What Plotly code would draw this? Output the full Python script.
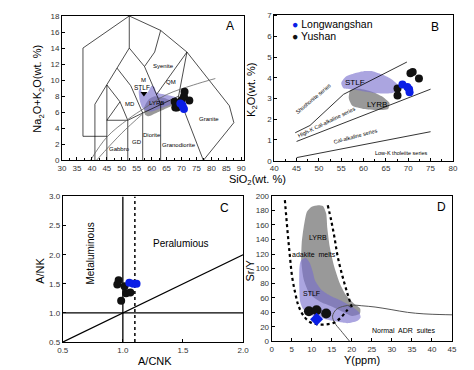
import plotly.graph_objects as go

# ---------------- data ----------------
# Panel A (TAS): SiO2 vs Na2O+K2O
A_long_sio2 = [69.6, 70.4, 70.8, 70.2]
A_long_alk = [7.1, 6.7, 6.4, 6.9]
A_yu_sio2 = [67.7, 67.9, 68.3, 70.0, 70.8, 71.0, 72.6, 68.5]
A_yu_alk = [7.3, 6.6, 7.0, 7.5, 7.95, 8.55, 7.46, 6.6]

# Panel B: SiO2 vs K2O
B_long_sio2 = [68.7, 69.8, 70.2, 70.3]
B_long_k2o = [3.68, 3.56, 3.45, 3.30]
B_yu_sio2 = [67.6, 67.6, 70.5, 71.0, 72.4]
B_yu_k2o = [3.48, 3.14, 4.22, 4.28, 3.97]

# Panel C: A/CNK vs A/NK
C_long_acnk = [1.054, 1.086, 1.114]
C_long_ank = [1.52, 1.50, 1.50]
C_yu_acnk = [0.965, 0.954, 1.014, 1.027, 1.062, 0.986]
C_yu_ank = [1.56, 1.49, 1.46, 1.34, 1.35, 1.21]

# Panel D: Y vs Sr/Y
D_long_y = [11.2]
D_long_sry = [30.4]
D_yu_y = [9.3, 11.2, 13.6]
D_yu_sry = [41.5, 42.9, 38.4]

LEGEND_NAMES = ["Longwangshan", "Yushan"]

# ---------------- reference fields / lines ----------------
TAS_LINES = [
    [(37, 3), (37, 14), (52.5, 18), (63, 16.2), (71.8, 13.5), (86, 6.8), (87.5, 4.7), (77.3, 0)],
    [(37, 3), (45, 3)],
    [(41, 0), (41, 7)],
    [(45, 0), (45, 9.4)],
    [(52, 0), (52, 5)],
    [(57, 0), (57, 5.9)],
    [(63, 0), (63, 7)],
    [(45, 5), (52, 5), (57, 5.9), (63, 7), (69, 8), (77.3, 0)],
    [(41, 7), (45, 9.4), (48.4, 11.5), (52.5, 14), (52.5, 18)],
    [(45, 5), (49.4, 7.3), (45, 9.4)],
    [(49.4, 7.3), (52, 5)],
    [(48.4, 11.5), (53, 9.3), (57, 5.9)],
    [(52.5, 14), (57.6, 11.7), (63, 7)],
    [(57.6, 11.7), (61, 13.5), (63, 16.2)],
    [(69, 8), (71.8, 13.5)],
    [(71.8, 13.5), (61.6, 8.2)],
]
TAS_ALK_LINES = [
    [(39.5, 0), (45, 2.9), (52, 5.1), (58, 6.6), (65, 8.2), (74, 9.4), (81.3, 10.2)],
    [(41.5, 0), (50, 3.4), (57, 5.8)],
]
A_STLF = [(55.7, 8.7), (56.3, 8.9), (57, 8.3), (58.5, 8.4), (60, 9.3), (61, 9.1), (61.5, 8.5),
          (64, 8.25), (67, 8.0), (68.5, 7.8), (68.3, 7.2), (66, 6.9), (63, 6.5), (60, 6.1),
          (58, 6.2), (56.8, 6.6), (56, 7.5)]
A_LYRB = [(57.5, 6.6), (59, 7.6), (61, 8.0), (64, 7.8), (66.5, 7.4), (67, 6.9), (65, 6.5),
          (62, 6.0), (59, 5.5), (57.8, 5.7)]
A_MARK = [(57.4, 8.35)]

B_LINES = [
    [(44.7, 1.35), (48, 1.7), (55.5, 3.2), (69.7, 4.76)],
    [(45, 0.93), (75, 3.45)],
    [(45, 0.15), (75, 1.4)],
]
B_STLF = [(55, 3.75), (56, 4.05), (58, 4.22), (60, 4.32), (62, 4.32), (64, 4.17), (66, 3.97),
          (67.5, 3.7), (67.8, 3.4), (66, 3.25), (63, 3.25), (60, 3.35), (57.5, 3.45), (55.5, 3.5)]
B_LYRB = [(57, 3.4), (59, 3.47), (62, 3.32), (64, 3.12), (65.8, 2.78), (65.5, 2.5), (63, 2.45),
          (60, 2.5), (57.5, 2.65), (56.7, 3.0)]

C_LINES = [
    [(1.0, 0.5), (1.0, 3.0)],
    [(0.5, 1.0), (2.0, 1.0)],
    [(0.5, 0.5), (2.0, 2.0)],
]
C_DOT = [(1.1, 0.5), (1.1, 3.0)]

D_LEFT_DOT = [(3.3, 194), (3.9, 155), (4.5, 120), (5.1, 89), (5.9, 66), (6.7, 49), (8, 35),
              (9.6, 26.5), (11.6, 23.5), (13.6, 23.5), (15.7, 26), (17.3, 33), (18.7, 42), (19.5, 48)]
D_RIGHT_DOT = [(14, 187), (14.9, 165), (15.7, 142), (16.5, 116), (17.7, 89), (18.9, 66),
               (19.7, 52), (20, 47)]
D_ADR = [(19.5, 0), (17.3, 14.7), (15.7, 25.9), (15.2, 34.8), (16.1, 43.8), (17.7, 48),
         (20.1, 50), (22.5, 49), (25.8, 47.3), (29.8, 43.8), (33.9, 40), (38, 37.9), (42, 37), (45, 36.6)]
D_LYRB = [(11.6, 187), (12.8, 186), (13.6, 176), (13.9, 155), (14.5, 130), (15.5, 105), (17, 80),
          (18.5, 64), (20.5, 52), (22.1, 45), (22, 38), (20, 35), (18, 40), (15, 48), (12, 55),
          (9.5, 65), (8, 85), (7.4, 110), (7.5, 135), (8, 157), (8.8, 178), (10, 185)]
D_STLF = [(7.5, 112), (8.5, 115), (9.5, 108), (10.3, 95), (10.8, 84), (12.4, 71), (14.9, 62),
          (17.7, 55), (20, 48), (21.8, 40), (22.2, 33), (21.3, 28), (18.9, 25), (15.7, 28),
          (13.2, 31), (10, 36), (7.8, 45), (7.1, 55), (6.9, 75), (6.9, 98), (7.1, 108)]

BLUE = "#0a1ee6"
BLACK = "#111111"
GRAY_FILL = "rgba(135,135,135,0.85)"
PURPLE_FILL = "rgba(120,110,205,0.62)"
FONT = "Arial, Liberation Sans, sans-serif"

fig = go.Figure()


def poly(pts, ax, fill, close=True):
    xs = [p[0] for p in pts]
    ys = [p[1] for p in pts]
    if close:
        xs = xs + [xs[0]]
        ys = ys + [ys[0]]
    fig.add_trace(go.Scatter(x=xs, y=ys, mode="lines", fill="toself", fillcolor=fill,
                             line=dict(width=0, shape="spline", smoothing=0.6), hoverinfo="skip",
                             showlegend=False, xaxis="x" + ax, yaxis="y" + ax))


def line(pts, ax, color="black", width=0.8, dash="solid", shape="linear"):
    fig.add_trace(go.Scatter(x=[p[0] for p in pts], y=[p[1] for p in pts], mode="lines",
                             line=dict(color=color, width=width, dash=dash, shape=shape),
                             hoverinfo="skip", showlegend=False, xaxis="x" + ax, yaxis="y" + ax))


def pts(x, y, ax, color, name=None, symbol="circle", size=8):
    fig.add_trace(go.Scatter(x=x, y=y, mode="markers", name=name,
                             marker=dict(color=color, size=size, symbol=symbol, line=dict(width=0)),
                             showlegend=False, xaxis="x" + ax, yaxis="y" + ax))


# Panel A
poly(A_LYRB, "", GRAY_FILL)
poly(A_STLF, "", PURPLE_FILL)
for seg in TAS_LINES:
    line(seg, "", width=0.7)
for seg in TAS_ALK_LINES:
    line(seg, "", color="#666666", width=0.8, shape="spline")
fig.add_trace(go.Scatter(x=[p[0] for p in A_MARK], y=[p[1] for p in A_MARK], mode="markers",
                         marker=dict(symbol="triangle-down", size=6, color="black"),
                         showlegend=False, hoverinfo="skip"))
pts(A_yu_sio2, A_yu_alk, "", BLACK)
pts(A_long_sio2, A_long_alk, "", BLUE)

# Panel B
poly(B_LYRB, "2", GRAY_FILL)
poly(B_STLF, "2", PURPLE_FILL)
for seg in B_LINES:
    line(seg, "2", width=0.8)
pts(B_yu_sio2, B_yu_k2o, "2", BLACK, name=LEGEND_NAMES[1])
pts(B_long_sio2, B_long_k2o, "2", BLUE, name=LEGEND_NAMES[0])

# Panel C
for seg in C_LINES:
    line(seg, "3", width=1.3)
line(C_DOT, "3", width=1.5, dash="dot")
pts(C_yu_acnk, C_yu_ank, "3", BLACK)
pts(C_long_acnk, C_long_ank, "3", BLUE)

# Panel D
poly(D_LYRB, "4", GRAY_FILL)
poly(D_STLF, "4", PURPLE_FILL)
line(D_ADR, "4", color="#555555", width=1, shape="spline")
line(D_LEFT_DOT, "4", width=2.2, dash="dot", shape="spline")
line(D_RIGHT_DOT, "4", width=2.2, dash="dot", shape="spline")
pts(D_yu_y, D_yu_sry, "4", BLACK, size=10)
pts(D_long_y, D_long_sry, "4", BLUE, symbol="diamond", size=10)

axis_style = dict(showline=True, linecolor="black", linewidth=1, mirror=True, ticks="inside",
                  ticklen=3, tickwidth=1, tickcolor="black", showgrid=False, zeroline=False,
                  tickfont=dict(size=8, color="#333333", family=FONT))
minor_x = dict(dtick=2.5, ticks="inside", ticklen=2, tickcolor="black")

fig.update_layout(
    width=474, height=370, margin=dict(l=0, r=0, t=0, b=0),
    paper_bgcolor="white", plot_bgcolor="white",
    font=dict(family=FONT, color="black"),
    showlegend=False,
    xaxis=dict(domain=[0.104, 0.4985], range=[30, 91], dtick=5, anchor="y", minor=minor_x, **axis_style),
    yaxis=dict(domain=[0.589, 0.989], range=[0, 18], dtick=2, anchor="x", **axis_style),
    xaxis2=dict(domain=[0.5633, 0.950], range=[40, 80], dtick=5, anchor="y2", minor=minor_x, **axis_style),
    yaxis2=dict(domain=[0.588, 0.993], range=[0, 7.05], dtick=1, anchor="x2", **axis_style),
    xaxis3=dict(domain=[0.1055, 0.4958], range=[0.5, 2.0], dtick=0.5, tickformat=".1f",
                anchor="y3", **axis_style),
    yaxis3=dict(domain=[0.0857, 0.489], range=[0.5, 3.0], dtick=0.5, tickformat=".1f",
                anchor="x3", **axis_style),
    xaxis4=dict(domain=[0.5577, 0.948], range=[0, 45], dtick=5, anchor="y4", **axis_style),
    yaxis4=dict(domain=[0.0873, 0.491], range=[0, 200], dtick=20, anchor="x4", **axis_style),
)

ann = []


def t(x, y, text, ref="", size=6, angle=0, color="black", xanchor="center"):
    ann.append(dict(x=x, y=y, xref="x" + ref, yref="y" + ref, text=text, showarrow=False,
                    xanchor=xanchor, yanchor="middle",
                    textangle=angle, font=dict(size=size, color=color, family=FONT)))


def p(x, y, text, size=11, angle=0, xanchor="center"):
    ann.append(dict(x=x, y=y, xref="paper", yref="paper", text=text, showarrow=False,
                    xanchor=xanchor, yanchor="middle",
                    textangle=angle, font=dict(size=size, color="black", family=FONT)))


# Panel A labels
t(86.2, 16.7, "A", size=12)
t(63.9, 11.8, "Syenite")
t(66.6, 9.8, "QM")
t(57.4, 10.0, "M")
t(56.6, 9.1, "STLF", size=6.5)
t(52.8, 7.0, "MD")
t(61.5, 7.2, "LYRB")
t(79.1, 5.1, "Granite")
t(60.1, 3.2, "Diorite")
t(55.0, 2.35, "GD")
t(49.2, 1.46, "Gabbro")
t(69.1, 1.86, "Granodiorite")

# Panel B labels + legend key
t(76, 6.43, "B", ref="2", size=12)
t(43.6, 6.58, "<span style='color:%s'>●</span> %s" % (BLUE, LEGEND_NAMES[0]), ref="2", size=10.5,
  xanchor="left")
t(43.6, 6.02, "<span style='color:%s'>●</span> %s" % (BLACK, LEGEND_NAMES[1]), ref="2", size=10.5,
  xanchor="left")
t(58.0, 3.76, "STLF", ref="2", size=8)
t(63.1, 2.72, "LYRB", ref="2", size=8)
t(48.6, 3.0, "Shoshonite series", ref="2", size=5.5, angle=-40)
t(51.8, 1.85, "High-K Cal-alkaline series", ref="2", size=5.5, angle=-26)
t(58.3, 1.17, "Cal-alkaline series", ref="2", size=5.5, angle=-15)
t(68.4, 0.38, "Low-K tholeiite series", ref="2", size=5.5)

# Panel C labels
t(1.846, 2.81, "C", ref="3", size=12)
t(0.735, 2.02, "Metaluminous", ref="3", size=10, angle=-90)
t(1.486, 2.2, "Peralumious", ref="3", size=10)

# Panel D labels
t(42.4, 184, "D", ref="4", size=12)
t(11.6, 143, "LYRB", ref="4", size=7)
t(10.6, 119.5, "adakite  melts", ref="4", size=7)
t(10.0, 65.6, "STLF", ref="4", size=7)
t(33.0, 14.7, "Normal  ADR  suites", ref="4", size=7)

# Axis titles
p(0.053, 0.789, "Na<sub>2</sub>O+K<sub>2</sub>O(wt. %)", angle=-90)
p(0.527, 0.535, "SiO<sub>2</sub>(wt. %)")
p(0.515, 0.784, "K<sub>2</sub>O(wt. %)", angle=-90)
p(0.057, 0.284, "A/NK", angle=-90)
p(0.306, 0.032, "A/CNK")
p(0.511, 0.284, "Sr/Y", angle=-90)
p(0.753, 0.035, "Y(ppm)")

fig.update_layout(annotations=ann)
fig.write_html("out.html")
